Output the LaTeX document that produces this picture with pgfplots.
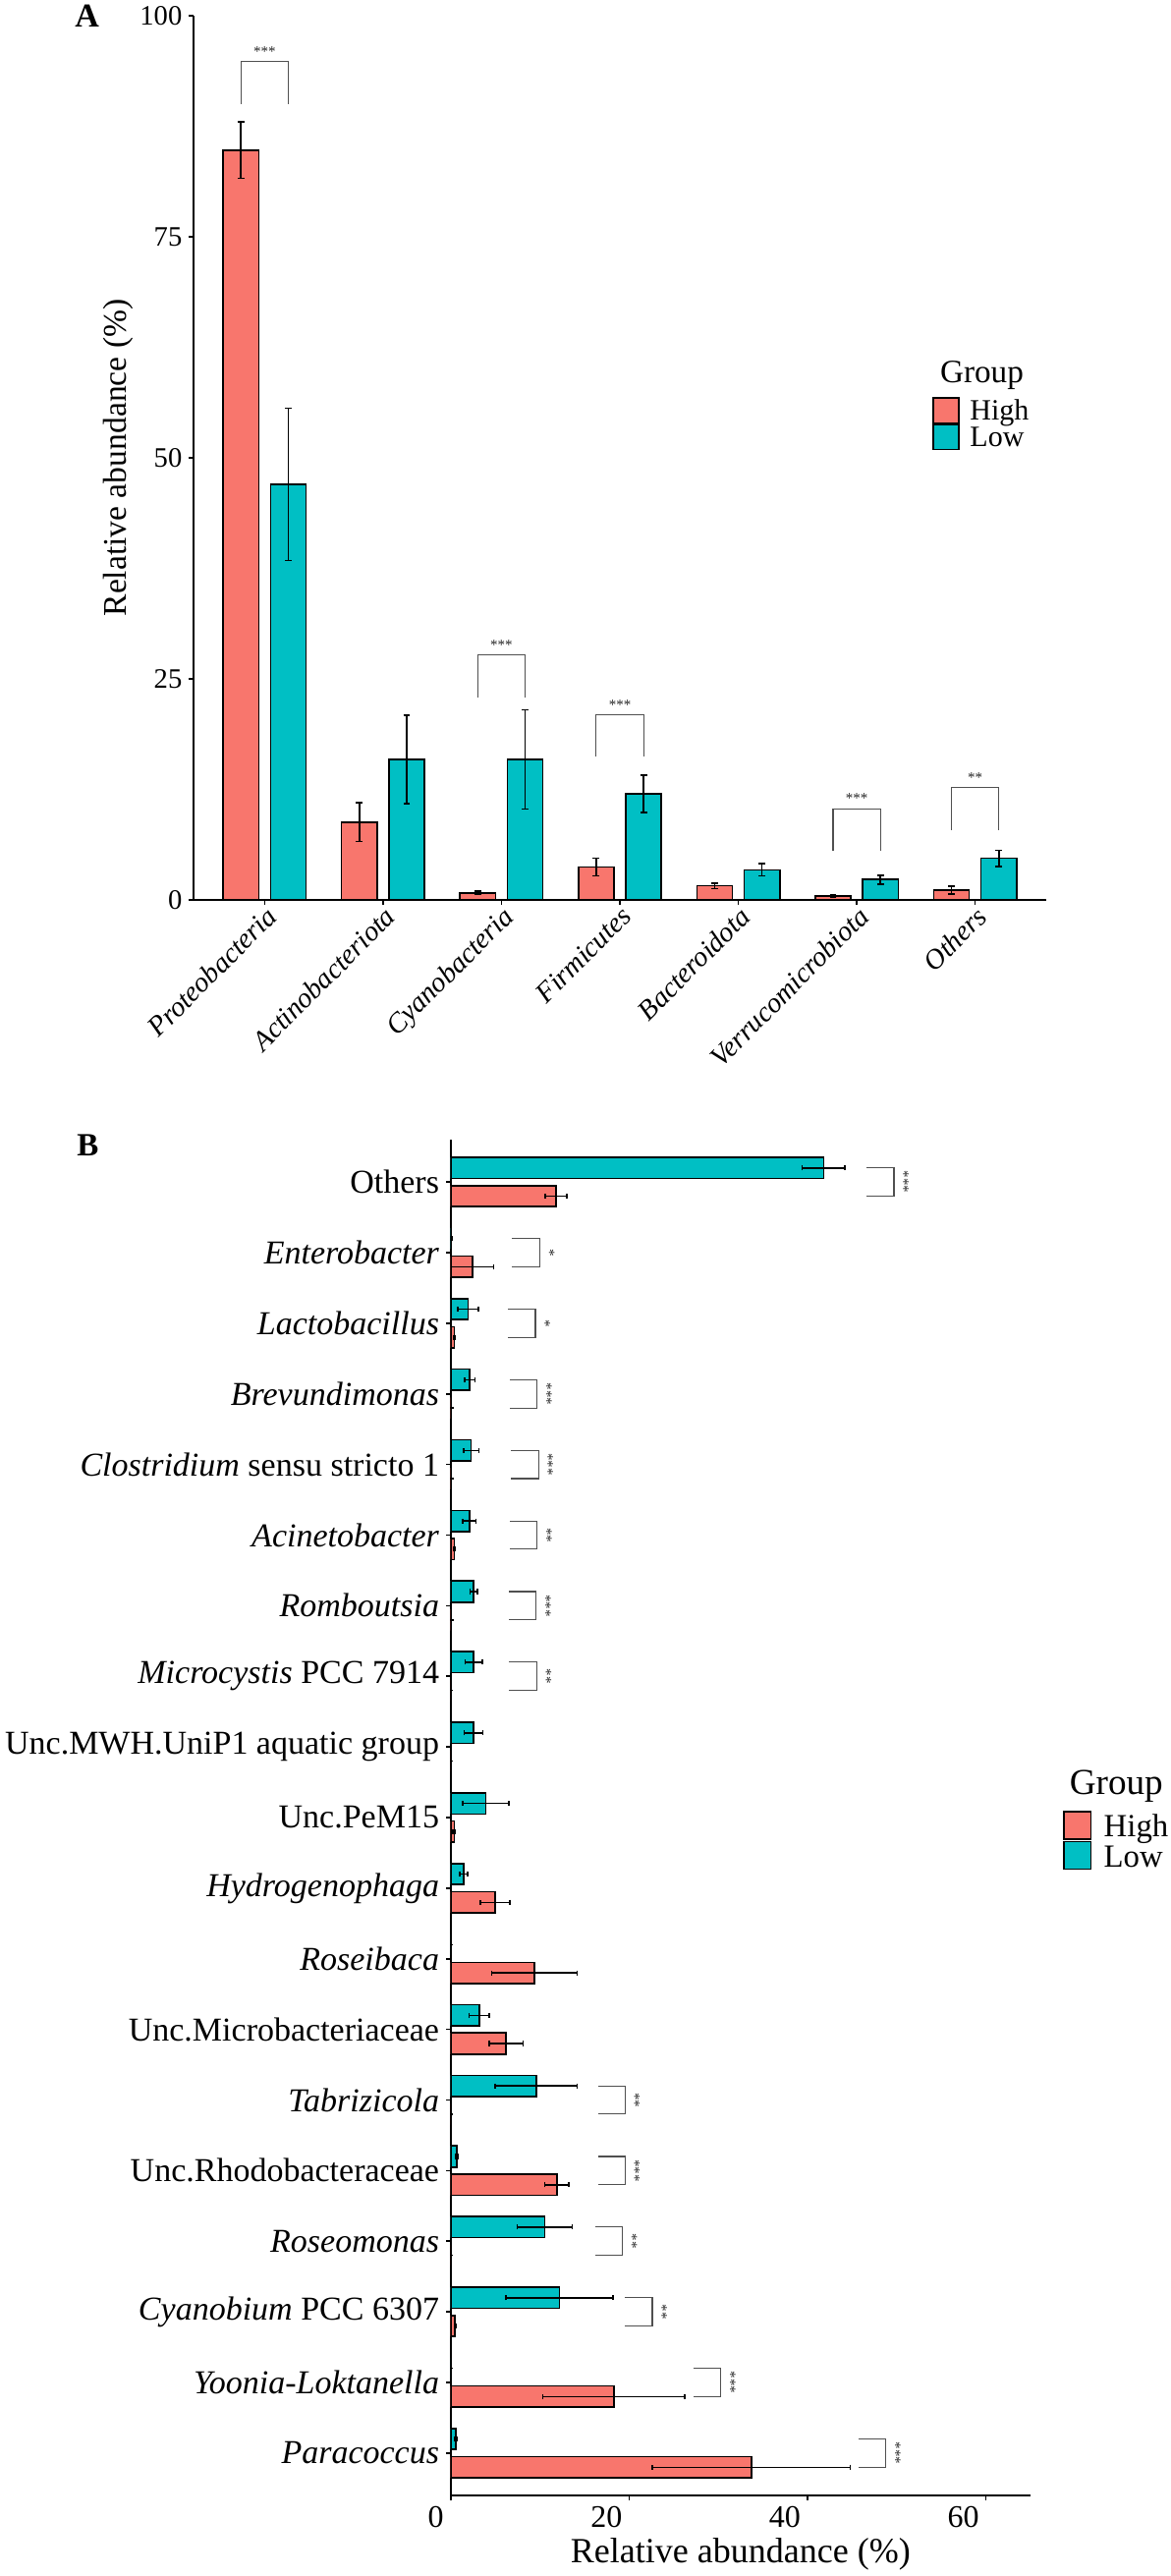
\documentclass[border=0pt]{standalone}
\usepackage{pgfplots}
\pgfplotsset{compat=1.18}
\usepackage{fontspec}
\setmainfont{Liberation Serif}

\definecolor{hi}{HTML}{F8766D}
\definecolor{lo}{HTML}{00BFC4}
\definecolor{sig}{HTML}{505050}

\pgfplotsset{
  abund/.style={
    scale only axis, axis lines*=left, tick align=outside,
    major tick length=2.3pt,
    axis line style={line width=0.9pt},
    every tick/.style={black, line width=0.8pt},
    /pgf/number format/assume math mode=true,
    legend cell align=left,
  },
  error bars/errs/.style={error bar style={line width=0.75pt, black},
    error mark options={rotate=90, black, mark size=#1, line width=0.75pt}},
  bracket/.style={sig, line width=0.6pt, mark=none, forget plot},
}

\begin{document}
\begin{tikzpicture}
\path[use as bounding box] (0,0) rectangle (596pt,1311pt);

% ---------------- panel A: phylum level
\begin{axis}[abund,
  at={(98.5pt,853pt)}, anchor=south west,
  width=434pt, height=450pt,
  xmin=0.4, xmax=7.6, ymin=0, ymax=100,
  xtick={1,...,7},
  xticklabels={Proteobacteria, Actinobacteriota, Cyanobacteria, Firmicutes,
    Bacteroidota, Verrucomicrobiota, Others},
  ytick={0,25,50,75,100},
  xticklabel style={font=\fontsize{14.3}{14.3}\selectfont\itshape,
    rotate=45, anchor=north east, inner sep=0pt},
  yticklabel style={font=\fontsize{14.3}{14.3}\selectfont},
  ylabel={Relative abundance (\%)},
  every axis y label/.style={at={(axis description cs:-0.0887,0.5)},
    rotate=90, anchor=center, font=\fontsize{16.8}{16.8}\selectfont},
  legend style={draw=none, fill=none, at={(0.8664,0.5691)}, anchor=north west,
    inner sep=0pt, row sep=0pt, column sep=5.2pt,
    font=\fontsize{15}{15}\selectfont,
    nodes={inner sep=0pt, text height=11.4pt, text depth=1.95pt}},
]
\addplot[ybar, bar width=0.3, bar shift=0pt, fill=hi, draw=black, line width=0.8pt,
  legend image code/.code={\draw[fill=hi, draw=black, line width=0.8pt] (0pt,-6.35pt) rectangle (13pt,6.35pt);},
  error bars/.cd, y dir=both, y explicit, errs=1.7pt]
  coordinates {
  (0.8,84.8) +- (0,3.2)
  (1.8,8.8)  +- (0,2.2)
  (2.8,0.8)  +- (0,0.2)
  (3.8,3.7)  +- (0,1.0)
  (4.8,1.6)  +- (0,0.3)
  (5.8,0.45) +- (0,0.1)
  (6.8,1.1)  +- (0,0.45)
  };
\addlegendentry{High}
\addplot[ybar, bar width=0.3, bar shift=0pt, fill=lo, draw=black, line width=0.8pt,
  legend image code/.code={\draw[fill=lo, draw=black, line width=0.8pt] (0pt,-6.35pt) rectangle (13pt,6.35pt);},
  error bars/.cd, y dir=both, y explicit, errs=1.7pt]
  coordinates {
  (1.2,47.0) +- (0,8.6)
  (2.2,15.9) +- (0,5.0)
  (3.2,15.9) +- (0,5.6)
  (4.2,12.0) +- (0,2.1)
  (5.2,3.4)  +- (0,0.7)
  (6.2,2.3)  +- (0,0.5)
  (7.2,4.7)  +- (0,0.9)
  };
\addlegendentry{Low}
% significance brackets
\addplot[bracket] coordinates {(0.8,90.0) (0.8,94.8) (1.2,94.8) (1.2,90.0)};
\addplot[bracket] coordinates {(2.8,22.9) (2.8,27.7) (3.2,27.7) (3.2,22.9)};
\addplot[bracket] coordinates {(3.8,16.2) (3.8,20.9) (4.2,20.9) (4.2,16.2)};
\addplot[bracket] coordinates {(5.8,5.5) (5.8,10.3) (6.2,10.3) (6.2,5.5)};
\addplot[bracket] coordinates {(6.8,7.9) (6.8,12.7) (7.2,12.7) (7.2,7.9)};
\begin{scope}[every node/.style={font=\fontsize{7.5}{7.5}\selectfont, anchor=base, text=black!85, inner sep=0pt}]
\node at (axis cs:1,95.4) {***};
\node at (axis cs:3,28.3) {***};
\node at (axis cs:4,21.5) {***};
\node at (axis cs:6,10.9) {***};
\node at (axis cs:7,13.3) {**};
\end{scope}
\end{axis}
\node[anchor=base west, font=\fontsize{16.6}{16.6}\selectfont] at (475pt,1116pt) {Group};
\node[anchor=base west, inner sep=0pt, font=\fontsize{17}{17}\selectfont\bfseries] at (38pt,1297.3pt) {A};

% ---------------- panel B: genus level
\begin{axis}[abund,
  at={(229.35pt,41pt)}, anchor=south west,
  width=295.15pt, height=690pt,
  xmin=0, xmax=65, ymin=0.4, ymax=19.6, y dir=reverse,
  xtick={0,20,40,60}, ytick={1,...,19},
  yticklabels={Others, \textit{Enterobacter}, \textit{Lactobacillus},
    \textit{Brevundimonas}, \textit{Clostridium} sensu stricto 1,
    \textit{Acinetobacter}, \textit{Romboutsia}, \textit{Microcystis} PCC 7914,
    Unc.MWH.UniP1 aquatic group, Unc.PeM15, \textit{Hydrogenophaga},
    \textit{Roseibaca}, Unc.Microbacteriaceae, \textit{Tabrizicola},
    Unc.Rhodobacteraceae, \textit{Roseomonas}, \textit{Cyanobium} PCC 6307,
    \textit{Yoonia-Loktanella}, \textit{Paracoccus}},
  yticklabel style={font=\fontsize{17}{17}\selectfont},
  xticklabel style={font=\fontsize{16}{16}\selectfont, anchor=north east},
  xlabel={Relative abundance (\%)},
  every axis x label/.style={at={(axis description cs:0.5,-0.0434)},
    anchor=center, font=\fontsize{18}{18}\selectfont},
  legend style={draw=none, fill=none, at={(1.0554,0.5053)}, anchor=north west,
    inner sep=0pt, row sep=0pt, column sep=6.2pt,
    font=\fontsize{16.4}{16.4}\selectfont,
    nodes={inner sep=0pt, text height=13.4pt, text depth=1.75pt}},
]
\addplot[xbar, bar width=0.3, bar shift=0pt, fill=hi, draw=black, line width=0.8pt,
  legend image code/.code={\draw[fill=hi, draw=black, line width=0.8pt] (0pt,-7pt) rectangle (13.8pt,7pt);},
  error bars/.cd, x dir=both, x explicit, errs=1.3pt]
  coordinates {
  (11.8,1.2)  +- (1.2,0)
  (2.45,2.2)  +- (2.35,0)
  (0.4,3.2)   +- (0.1,0)
  (0.1,4.2)   +- (0,0)
  (0.05,5.2)  +- (0,0)
  (0.44,6.2)  +- (0.1,0)
  (0.05,7.2)  +- (0,0)
  (0.0,8.2)   +- (0,0)
  (0.0,9.2)   +- (0,0)
  (0.4,10.2)  +- (0.15,0)
  (5.0,11.2)  +- (1.65,0)
  (9.4,12.2)  +- (4.8,0)
  (6.2,13.2)  +- (1.9,0)
  (0.0,14.2)  +- (0,0)
  (11.9,15.2) +- (1.35,0)
  (0.0,16.2)  +- (0,0)
  (0.5,17.2)  +- (0.1,0)
  (18.3,18.2) +- (7.95,0)
  (33.7,19.2) +- (11.1,0)
  };
\addlegendentry{High}
\addplot[xbar, bar width=0.3, bar shift=0pt, fill=lo, draw=black, line width=0.8pt,
  legend image code/.code={\draw[fill=lo, draw=black, line width=0.8pt] (0pt,-7pt) rectangle (13.8pt,7pt);},
  error bars/.cd, x dir=both, x explicit, errs=1.3pt]
  coordinates {
  (41.8,0.8)  +- (2.4,0)
  (0.1,1.8)   +- (0.05,0)
  (1.95,2.8)  +- (1.15,0)
  (2.15,3.8)  +- (0.6,0)
  (2.3,4.8)   +- (0.85,0)
  (2.1,5.8)   +- (0.75,0)
  (2.58,6.8)  +- (0.4,0)
  (2.58,7.8)  +- (0.95,0)
  (2.58,8.8)  +- (1.05,0)
  (3.95,9.8)  +- (2.6,0)
  (1.45,10.8) +- (0.45,0)
  (0.0,11.8)  +- (0,0)
  (3.2,12.8)  +- (1.15,0)
  (9.6,13.8)  +- (4.6,0)
  (0.7,14.8)  +- (0.1,0)
  (10.55,15.8) +- (3.1,0)
  (12.2,16.8) +- (6.0,0)
  (0.0,17.8)  +- (0,0)
  (0.6,18.8)  +- (0.1,0)
  };
\addlegendentry{Low}
% significance brackets
\addplot[bracket] coordinates {(46.6,0.8) (49.7,0.8) (49.7,1.2) (46.6,1.2)};
\addplot[bracket] coordinates {(6.9,1.8) (10.0,1.8) (10.0,2.2) (6.9,2.2)};
\addplot[bracket] coordinates {(6.45,2.8) (9.5,2.8) (9.5,3.2) (6.45,3.2)};
\addplot[bracket] coordinates {(6.65,3.8) (9.7,3.8) (9.7,4.2) (6.65,4.2)};
\addplot[bracket] coordinates {(6.8,4.8) (9.85,4.8) (9.85,5.2) (6.8,5.2)};
\addplot[bracket] coordinates {(6.65,5.8) (9.7,5.8) (9.7,6.2) (6.65,6.2)};
\addplot[bracket] coordinates {(6.55,6.8) (9.6,6.8) (9.6,7.2) (6.55,7.2)};
\addplot[bracket] coordinates {(6.55,7.8) (9.65,7.8) (9.65,8.2) (6.55,8.2)};
\addplot[bracket] coordinates {(16.55,13.8) (19.55,13.8) (19.55,14.2) (16.55,14.2)};
\addplot[bracket] coordinates {(16.55,14.8) (19.55,14.8) (19.55,15.2) (16.55,15.2)};
\addplot[bracket] coordinates {(16.2,15.8) (19.25,15.8) (19.25,16.2) (16.2,16.2)};
\addplot[bracket] coordinates {(19.5,16.8) (22.6,16.8) (22.6,17.2) (19.5,17.2)};
\addplot[bracket] coordinates {(27.2,17.8) (30.3,17.8) (30.3,18.2) (27.2,18.2)};
\addplot[bracket] coordinates {(45.7,18.8) (48.8,18.8) (48.8,19.2) (45.7,19.2)};
\begin{scope}[every node/.style={font=\fontsize{7.5}{7.5}\selectfont, rotate=-90, text=black!85, inner sep=0pt}]
\node at (axis cs:50.8,1) {***};
\node at (axis cs:11.1,2) {*};
\node at (axis cs:10.6,3) {*};
\node at (axis cs:10.8,4) {***};
\node at (axis cs:10.95,5) {***};
\node at (axis cs:10.8,6) {**};
\node at (axis cs:10.7,7) {***};
\node at (axis cs:10.75,8) {**};
\node at (axis cs:20.65,14) {**};
\node at (axis cs:20.65,15) {***};
\node at (axis cs:20.35,16) {**};
\node at (axis cs:23.7,17) {**};
\node at (axis cs:31.4,18) {***};
\node at (axis cs:49.9,19) {***};
\end{scope}
\end{axis}
\node[anchor=base west, font=\fontsize{18.6}{18.6}\selectfont] at (540.85pt,397.65pt) {Group};
\node[anchor=base west, inner sep=0pt, font=\fontsize{16.5}{16.5}\selectfont\bfseries] at (39pt,722.5pt) {B};
\end{tikzpicture}
\end{document}
